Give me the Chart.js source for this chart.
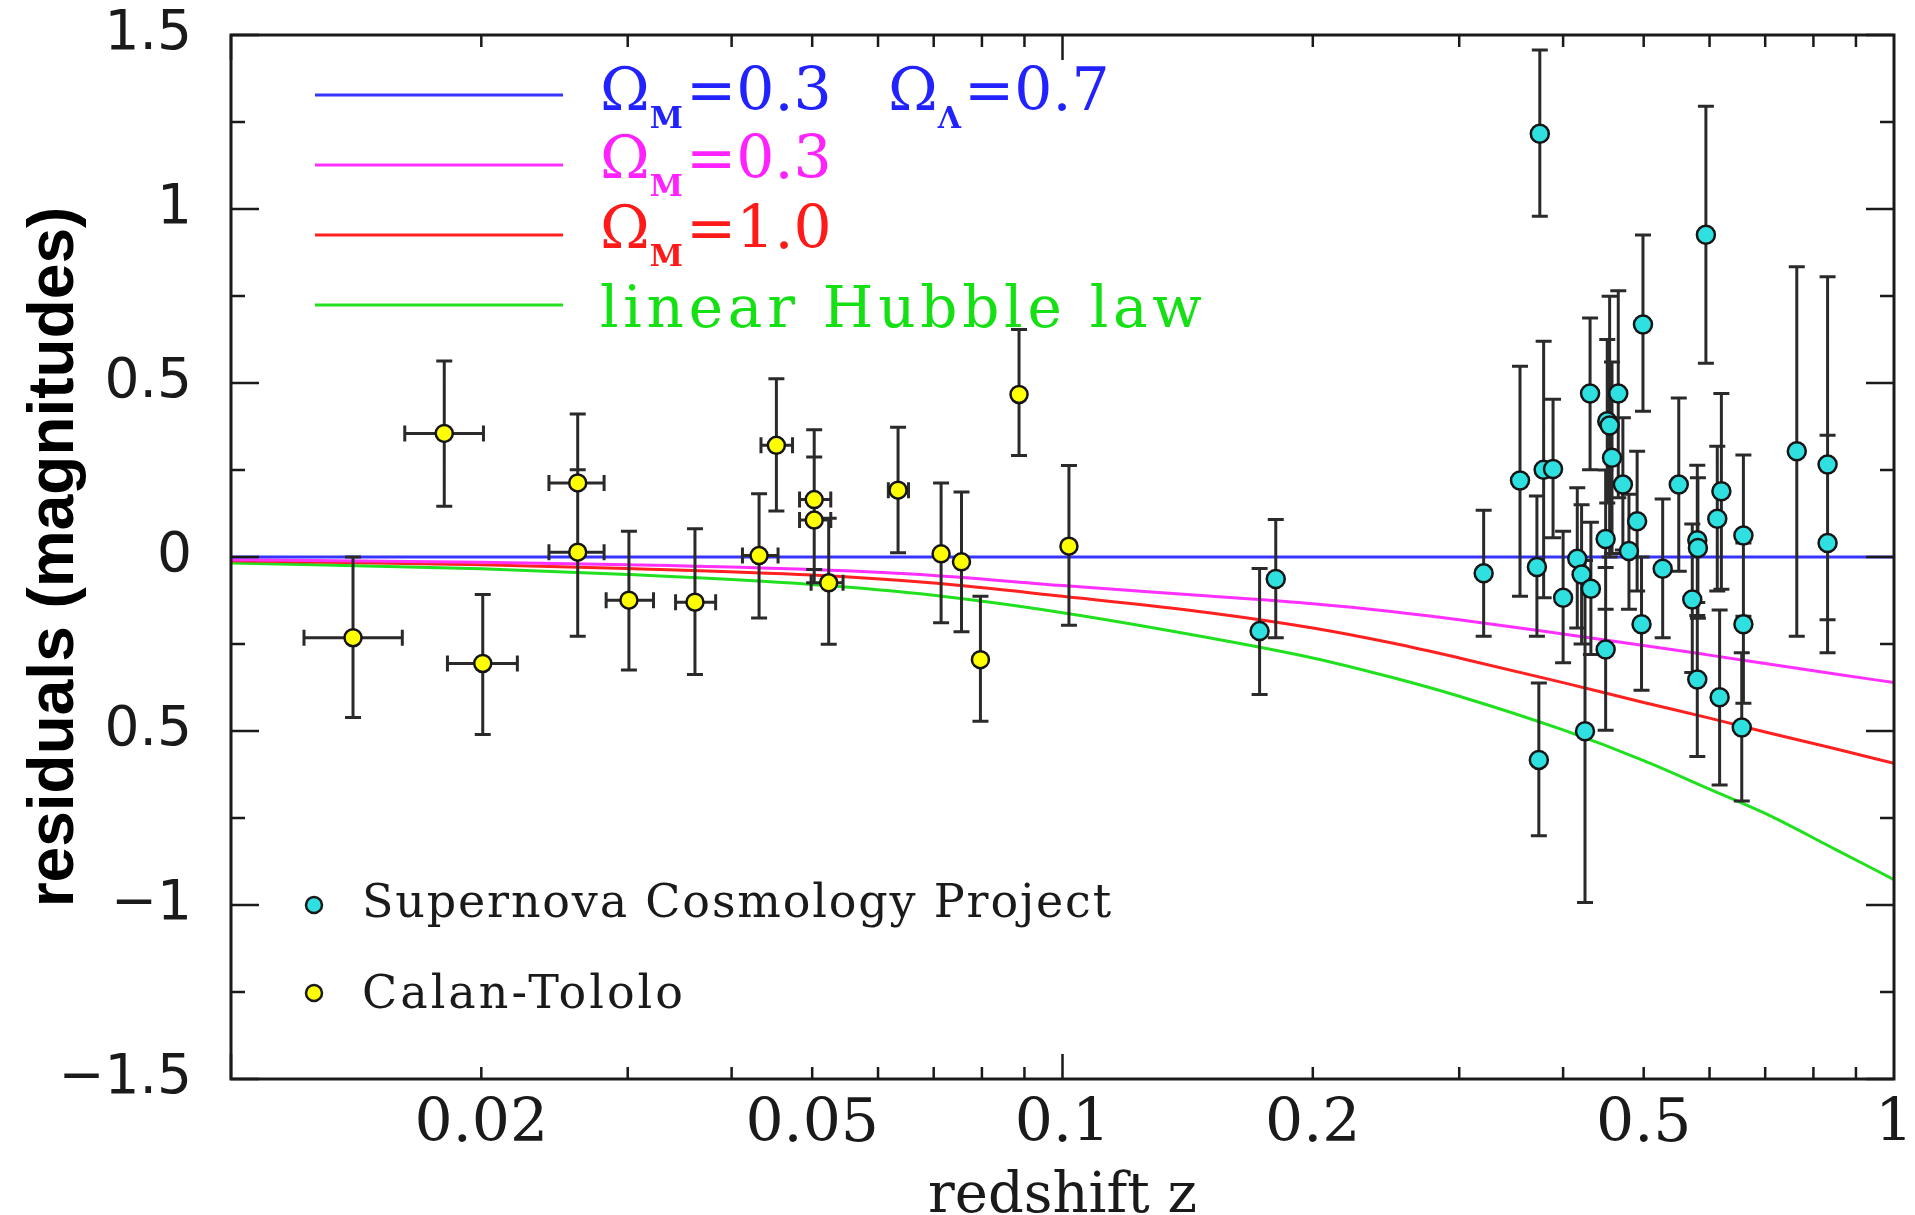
<!DOCTYPE html>
<html>
<head>
<meta charset="utf-8">
<title>Hubble diagram residuals</title>
<script src="https://cdn.jsdelivr.net/npm/chart.js@4.4.1/dist/chart.umd.min.js"></script>
<style>
  html, body { margin: 0; padding: 0; background: #fff; }
  #wrap { width: 1915px; height: 1215px; }
</style>
</head>
<body>
<div id="wrap"><canvas id="resid"></canvas></div>
<script>
// Calan-Tololo sample (yellow)
const ctZ   = [0.01402, 0.01805, 0.02008, 0.02612, 0.02612, 0.0301, 0.03614, 0.04316, 0.04528, 0.05028, 0.05028, 0.05234, 0.06342, 0.07145, 0.0756, 0.07967, 0.08866, 0.1018];
const ctRes = [-0.232, 0.355, -0.306, 0.213, 0.014, -0.124, -0.130, 0.004, 0.321, 0.165, 0.106, -0.074, 0.192, 0.009, -0.014, -0.295, 0.467, 0.031];
const ctHi  = [0.000, 0.563, -0.108, 0.411, 0.251, 0.074, 0.081, 0.182, 0.512, 0.366, 0.287, 0.111, 0.373, 0.213, 0.187, -0.113, 0.654, 0.263];
const ctLo  = [-0.461, 0.146, -0.510, 0.015, -0.228, -0.325, -0.338, -0.175, 0.132, -0.036, -0.074, -0.251, 0.012, -0.189, -0.215, -0.472, 0.292, -0.196];
const ctZLo = [0.01224, 0.01618, 0.01821, 0.02412, 0.02412, 0.02826, 0.03425, 0.04122, 0.04339, 0.04828, 0.04828, 0.04985, 0.06174, null, null, null, null, null];
const ctZHi = [0.01607, 0.02012, 0.0221, 0.0281, 0.0281, 0.03222, 0.03827, 0.04549, 0.04735, 0.05264, 0.05264, 0.05446, 0.06528, null, null, null, null, null];

// Supernova Cosmology Project (cyan)
const scpZ   = [0.1726, 0.1805, 0.321, 0.355, 0.372, 0.375, 0.374, 0.379, 0.389, 0.400, 0.416, 0.421, 0.425, 0.431, 0.432, 0.450, 0.450, 0.452, 0.455, 0.458, 0.466, 0.472, 0.480, 0.491, 0.497, 0.499, 0.527, 0.551, 0.572, 0.580, 0.581, 0.580, 0.594, 0.613, 0.617, 0.620, 0.656, 0.659, 0.659, 0.764, 0.832, 0.832];
const scpRes = [-0.213, -0.063, -0.047, 0.220, -0.029, 1.216, -0.583, 0.251, 0.253, -0.117, -0.005, -0.050, -0.501, 0.470, -0.091, -0.266, 0.052, 0.390, 0.378, 0.285, 0.470, 0.208, 0.017, 0.103, -0.193, 0.668, -0.034, 0.208, -0.122, 0.048, 0.026, -0.352, 0.926, 0.110, -0.403, 0.189, -0.490, 0.062, -0.193, 0.304, 0.266, 0.040];
const scpHi  = [-0.033, 0.108, 0.134, 0.548, 0.175, 1.457, -0.362, 0.620, 0.453, 0.074, 0.199, 0.150, -0.010, 0.687, 0.100, -0.030, 0.250, 0.625, 0.749, 0.560, 0.765, 0.400, 0.180, 0.304, 0.000, 0.925, 0.167, 0.457, 0.095, 0.264, 0.228, -0.131, 1.295, 0.318, -0.152, 0.470, -0.275, 0.293, 0.040, 0.834, 0.805, 0.350];
const scpLo  = [-0.395, -0.232, -0.228, -0.113, -0.228, 0.979, -0.801, -0.117, 0.055, -0.304, -0.204, -0.250, -0.993, 0.251, -0.280, -0.498, -0.150, 0.155, 0.000, 0.010, 0.170, 0.020, -0.150, -0.098, -0.383, 0.419, -0.232, -0.041, -0.332, -0.168, -0.176, -0.573, 0.557, -0.098, -0.655, -0.093, -0.701, -0.170, -0.420, -0.228, -0.180, -0.275];

// model curves, residuals relative to the flat Lambda model
const modelZ    = [0.01, 0.02, 0.03, 0.05, 0.07, 0.1, 0.15, 0.2, 0.25, 0.3, 0.4, 0.5, 0.6, 0.7, 0.85, 1.0];
const resLambda = [0, 0, 0, 0, 0, 0, 0, 0, 0, 0, 0, 0, 0, 0, 0, 0];
const resOpen   = [-0.008, -0.015, -0.022, -0.036, -0.053, -0.082, -0.112, -0.134, -0.157, -0.180, -0.221, -0.254, -0.282, -0.306, -0.336, -0.361];
const resEdS    = [-0.011, -0.022, -0.033, -0.052, -0.075, -0.113, -0.160, -0.204, -0.248, -0.290, -0.361, -0.418, -0.463, -0.503, -0.551, -0.593];
const resLinear = [-0.017, -0.034, -0.050, -0.079, -0.110, -0.160, -0.232, -0.290, -0.347, -0.400, -0.497, -0.585, -0.667, -0.737, -0.840, -0.927];

const xTickValues = [0.02, 0.05, 0.1, 0.2, 0.5, 1];
const xTickLabels = ['0.02', '0.05', '0.1', '0.2', '0.5', '1'];
const yTickValues = [-1.5, -1, -0.5, 0, 0.5, 1, 1.5];
const yTickLabels = ['\u22121.5', '\u22121', '0.5', '0', '0.5', '1', '1.5'];

const colors = {
  lambda: '#3535ff',
  open: '#ff30ff',
  eds: '#ff2020',
  linear: '#20e020',
};

const toPts = (xs, ys) => xs.map((x, i) => ({ x, y: ys[i] }));

const curve = (data, color) => ({
  data,
  showLine: true,
  borderColor: color,
  borderWidth: 3,
  pointRadius: 0,
  fill: false,
  cubicInterpolationMode: 'monotone',
});

// error bars drawn right before each point set
const errorBars = {
  id: 'errorBars',
  beforeDatasetDraw(chart, args) {
    const ds = chart.data.datasets[args.index];
    if (!ds.errHi) return;
    const { ctx, scales: { x, y } } = chart;
    ctx.save();
    ctx.strokeStyle = '#2a2a2a';
    ctx.lineWidth = 3;
    ctx.beginPath();
    ds.data.forEach((p, i) => {
      const px = x.getPixelForValue(p.x);
      const top = y.getPixelForValue(ds.errHi[i]);
      const bot = y.getPixelForValue(ds.errLo[i]);
      ctx.moveTo(px, top); ctx.lineTo(px, bot);
      ctx.moveTo(px - 8, top); ctx.lineTo(px + 8, top);
      ctx.moveTo(px - 8, bot); ctx.lineTo(px + 8, bot);
      if (ds.zLo && ds.zLo[i] != null) {
        const py = y.getPixelForValue(p.y);
        const l = x.getPixelForValue(ds.zLo[i]);
        const r = x.getPixelForValue(ds.zHi[i]);
        ctx.moveTo(l, py); ctx.lineTo(r, py);
        ctx.moveTo(l, py - 8); ctx.lineTo(l, py + 8);
        ctx.moveTo(r, py - 8); ctx.lineTo(r, py + 8);
      }
    });
    ctx.stroke();
    ctx.restore();
  },
};

// box and inward tick marks on all four sides
const frame = {
  id: 'frame',
  afterDatasetsDraw(chart) {
    const { ctx, chartArea: a, scales: { x, y } } = chart;
    ctx.save();
    ctx.strokeStyle = '#1a1a1a';
    ctx.lineWidth = 3;
    ctx.strokeRect(a.left, a.top, a.right - a.left, a.bottom - a.top);
    ctx.lineWidth = 2.5;
    ctx.beginPath();
    for (let k = -6; k <= 6; k++) {
      const py = y.getPixelForValue(k * 0.25);
      const len = k % 2 === 0 ? 28 : 14;
      ctx.moveTo(a.left, py); ctx.lineTo(a.left + len, py);
      ctx.moveTo(a.right, py); ctx.lineTo(a.right - len, py);
    }
    for (const dec of [0.01, 0.1]) {
      for (let m = 1; m <= 9; m++) {
        const px = x.getPixelForValue(m * dec);
        const len = m === 1 ? 25 : 12;
        ctx.moveTo(px, a.bottom); ctx.lineTo(px, a.bottom - len);
        ctx.moveTo(px, a.top); ctx.lineTo(px, a.top + len);
      }
    }
    ctx.stroke();
    ctx.restore();
  },
};

function richText(ctx, x, base, parts, color) {
  ctx.fillStyle = color;
  for (const [t, sub] of parts) {
    ctx.font = sub ? 'bold 30px "DejaVu Serif"' : '60px "DejaVu Serif"';
    ctx.fillText(t, x, sub ? base + 18 : base);
    x += ctx.measureText(t).width + (sub ? 3 : 0);
  }
}

function fitText(ctx, text, x, base, width) {
  ctx.letterSpacing = '0px';
  const w = ctx.measureText(text).width;
  ctx.letterSpacing = ((width - w) / (text.length - 1)).toFixed(2) + 'px';
  ctx.fillText(text, x, base);
  ctx.letterSpacing = '0px';
}

const legendBox = {
  id: 'legendBox',
  afterDatasetsDraw(chart) {
    const { ctx, chartArea: a } = chart;
    const x0 = a.left + 84, x1 = a.left + 332, tx = a.left + 369;
    ctx.save();
    ctx.lineWidth = 3;
    const rows = [
      [colors.lambda, 95], [colors.open, 165], [colors.eds, 235], [colors.linear, 305],
    ];
    rows.forEach(([c, ly]) => {
      ctx.strokeStyle = c;
      ctx.beginPath(); ctx.moveTo(x0, ly); ctx.lineTo(x1, ly); ctx.stroke();
    });
    ctx.textBaseline = 'alphabetic';
    richText(ctx, tx, 110, [['\u03A9', 0], ['M', 1], ['=0.3', 0]], '#2222ff');
    richText(ctx, tx + 288, 110, [['\u03A9', 0], ['\u039B', 1], ['=0.7', 0]], '#2222ff');
    richText(ctx, tx, 178, [['\u03A9', 0], ['M', 1], ['=0.3', 0]], '#ff22ff');
    richText(ctx, tx, 248, [['\u03A9', 0], ['M', 1], ['=1.0', 0]], '#ff1a1a');
    ctx.font = '58px "DejaVu Serif"';
    ctx.fillStyle = '#14e014';
    fitText(ctx, 'linear Hubble law', tx, 327, 602);

    // point legend
    ctx.lineWidth = 2.5;
    ctx.strokeStyle = '#1a1a1a';
    [['#2ee0e0', 905], ['#ffff00', 993]].forEach(([c, py]) => {
      ctx.beginPath();
      ctx.arc(a.left + 83, py, 8, 0, Math.PI * 2);
      ctx.fillStyle = c; ctx.fill(); ctx.stroke();
    });
    ctx.fillStyle = '#1a1a1a';
    ctx.font = '46px "DejaVu Serif"';
    fitText(ctx, 'Supernova Cosmology Project', a.left + 131, 917, 749);
    fitText(ctx, 'Calan-Tololo', a.left + 131, 1008, 321);
    ctx.restore();
  },
};

const config = {
  type: 'scatter',
  data: {
    datasets: [
      {
        label: 'Supernova Cosmology Project',
        data: toPts(scpZ, scpRes),
        errHi: scpHi,
        errLo: scpLo,
        pointRadius: 9,
        pointBackgroundColor: '#2ee0e0',
        pointBorderColor: '#151515',
        pointBorderWidth: 2.5,
      },
      {
        label: 'Calan-Tololo',
        data: toPts(ctZ, ctRes),
        errHi: ctHi,
        errLo: ctLo,
        zLo: ctZLo,
        zHi: ctZHi,
        pointRadius: 8.5,
        pointBackgroundColor: '#ffff00',
        pointBorderColor: '#151515',
        pointBorderWidth: 2.5,
      },
      { label: '\u03A9M=0.3 \u03A9\u039B=0.7', ...curve(toPts(modelZ, resLambda), colors.lambda) },
      { label: '\u03A9M=0.3', ...curve(toPts(modelZ, resOpen), colors.open) },
      { label: '\u03A9M=1.0', ...curve(toPts(modelZ, resEdS), colors.eds) },
      { label: 'linear Hubble law', ...curve(toPts(modelZ, resLinear), colors.linear) },
    ],
  },
  options: {
    responsive: true,
    maintainAspectRatio: false,
    animation: false,
    layout: { padding: { top: 35, right: 21, left: 0, bottom: 0 } },
    plugins: {
      legend: { display: false },
      tooltip: { enabled: false },
    },
    scales: {
      x: {
        type: 'logarithmic',
        min: 0.01,
        max: 1,
        grid: { display: false, drawTicks: true, tickLength: 10 },
        border: { display: false },
        afterBuildTicks: (scale) => {
          scale.ticks = xTickValues.map((v) => ({ value: v }));
        },
        afterFit: (scale) => { scale.height = 136; },
        ticks: {
          autoSkip: false,
          maxRotation: 0,
          padding: 0,
          color: '#1a1a1a',
          font: { family: 'DejaVu Serif', size: 60 },
          callback: (v) => {
            const i = xTickValues.findIndex((t) => Math.abs(t - v) < 1e-9);
            return i < 0 ? '' : xTickLabels[i];
          },
        },
        title: {
          display: true,
          text: 'redshift z',
          color: '#1a1a1a',
          font: { family: 'DejaVu Serif', size: 56, lineHeight: 1 },
          padding: { top: 0, bottom: -10 },
        },
      },
      y: {
        min: -1.5,
        max: 1.5,
        grid: { display: false, drawTicks: true, tickLength: 39 },
        border: { display: false },
        afterFit: (scale) => { scale.width = 231; },
        ticks: {
          stepSize: 0.5,
          padding: 0,
          color: '#1a1a1a',
          font: { family: 'DejaVu Sans', size: 55 },
          callback: (v) => {
            const i = yTickValues.findIndex((t) => Math.abs(t - v) < 1e-9);
            return i < 0 ? '' : yTickLabels[i];
          },
        },
        title: {
          display: true,
          text: 'residuals (magnitudes)',
          color: '#000',
          font: { family: 'Liberation Sans', weight: 'bold', size: 64, lineHeight: 1 },
          padding: { top: 23, bottom: 0 },
        },
      },
    },
  },
  plugins: [errorBars, frame, legendBox],
};

new Chart(document.getElementById('resid').getContext('2d'), config);
</script>
</body>
</html>
